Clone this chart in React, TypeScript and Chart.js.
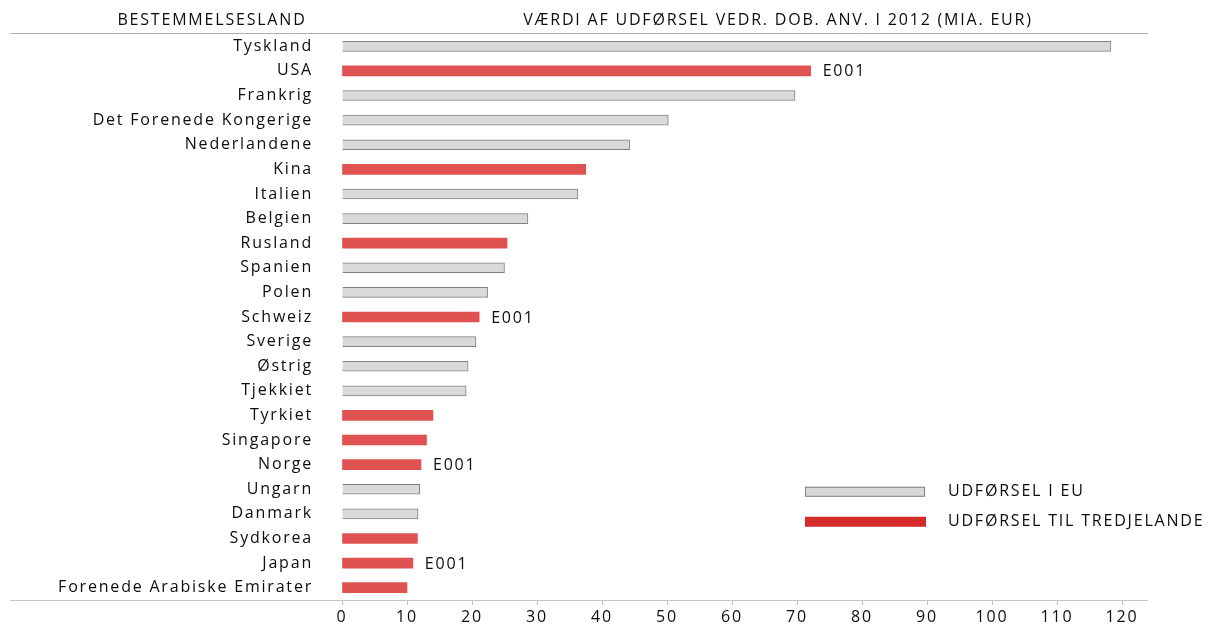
import React, { useEffect, useRef } from "react";
import { Chart, registerables } from "chart.js";

Chart.register(...registerables);

const categories = [
  "Tyskland", "USA", "Frankrig", "Det Forenede Kongerige", "Nederlandene", "Kina",
  "Italien", "Belgien", "Rusland", "Spanien", "Polen", "Schweiz", "Sverige", "Østrig",
  "Tjekkiet", "Tyrkiet", "Singapore", "Norge", "Ungarn", "Danmark", "Sydkorea", "Japan",
  "Forenede Arabiske Emirater",
];
const values = [
  118.3, 72.1, 69.7, 50.2, 44.3, 37.5, 36.3, 28.6, 25.4, 25.0, 22.4, 21.1, 20.6, 19.4,
  19.1, 14.0, 13.0, 12.15, 11.95, 11.7, 11.6, 10.9, 10.0,
];
// "eu" = udførsel i EU, "third" = udførsel til tredjelande
const groups = [
  "eu", "third", "eu", "eu", "eu", "third", "eu", "eu", "third", "eu", "eu", "third", "eu", "eu",
  "eu", "third", "third", "third", "eu", "eu", "third", "third", "third",
];
const notes = [
  "", "E001", "", "", "", "", "", "", "", "", "", "E001", "", "",
  "", "", "", "E001", "", "", "", "E001", "",
];
const xTicks = [0, 10, 20, 30, 40, 50, 60, 70, 80, 90, 100, 110, 120];
const legendLabels = ["UDFØRSEL I EU", "UDFØRSEL TIL TREDJELANDE"];
const headerLeft = "BESTEMMELSESLAND";
const headerRight = "VÆRDI AF UDFØRSEL VEDR. DOB. ANV. I 2012 (MIA. EUR)";

const FONT = "'Open Sans', sans-serif";
const FS = 16;
const LS = "1.8px";
const TXT = "#0d0d0d";

const euValues = values.map((v, i) => (groups[i] === "eu" ? v : null));
const thirdValues = values.map((v, i) => (groups[i] === "third" ? v : null));

const spacing = {
  id: "spacing",
  beforeLayout(chart: any) {
    chart.ctx.letterSpacing = LS;
  },
  beforeDraw(chart: any) {
    chart.ctx.letterSpacing = LS;
  },
};

const overlay = {
  id: "overlay",
  afterDraw(chart: any) {
    const ctx = chart.ctx;
    const area = chart.chartArea;
    ctx.save();
    ctx.letterSpacing = LS;
    // horizontal rules
    ctx.strokeStyle = "#b0b0b0";
    ctx.lineWidth = 1;
    ctx.beginPath();
    ctx.moveTo(10, area.top - 0.5);
    ctx.lineTo(area.right, area.top - 0.5);
    ctx.stroke();
    ctx.strokeStyle = "#c4c4c4";
    ctx.beginPath();
    ctx.moveTo(10, area.bottom + 0.5);
    ctx.lineTo(area.right, area.bottom + 0.5);
    ctx.stroke();

    // headers
    ctx.fillStyle = TXT;
    ctx.font = `${FS}px ${FONT}`;
    ctx.textBaseline = "middle";
    ctx.textAlign = "center";
    ctx.fillText(headerLeft, 212, 20);
    ctx.fillText(headerRight, 778, 20);

    // notes
    ctx.textAlign = "left";
    const metaThird = chart.getDatasetMeta(1);
    const metaEu = chart.getDatasetMeta(0);
    notes.forEach((n, i) => {
      if (!n) return;
      const meta = groups[i] === "third" ? metaThird : metaEu;
      const el = meta.data[i];
      if (!el) return;
      ctx.fillText(n, el.x + 12, el.y + 1);
    });

    // legend
    const lx = 805;
    const ly1 = chart.scales.y.getPixelForValue(18) + 2.5;
    const ly2 = ly1 + 30;
    ctx.fillStyle = "#d9d9d9";
    ctx.fillRect(lx, ly1 - 5, 120, 10);
    ctx.strokeStyle = "#808080";
    ctx.lineWidth = 1;
    ctx.strokeRect(lx + 0.5, ly1 - 4.5, 119, 9);
    ctx.fillStyle = "#d42a2a";
    ctx.fillRect(lx, ly2 - 5, 121, 10);
    ctx.fillStyle = TXT;
    ctx.fillText(legendLabels[0], 948, ly1);
    ctx.fillText(legendLabels[1], 948, ly2);
    ctx.restore();
  },
};

export default function App() {
  const ref = useRef<HTMLCanvasElement>(null);
  useEffect(() => {
    if (!ref.current) return;
    const chart = new Chart(ref.current, {
      type: "bar",
      data: {
        labels: categories,
        datasets: [
          {
            label: legendLabels[0],
            data: euValues,
            backgroundColor: "#d9d9d9",
            borderColor: "#808080",
            borderWidth: 1,
            barThickness: 10,
            grouped: false,
          } as any,
          {
            label: legendLabels[1],
            data: thirdValues,
            backgroundColor: "#e05252",
            borderWidth: 0,
            barThickness: 10,
            grouped: false,
          } as any,
        ],
      },
      options: {
        indexAxis: "y",
        animation: false,
        responsive: false,
        layout: { padding: { top: 34, right: 60, left: 0, bottom: 0 } },
        plugins: { legend: { display: false }, tooltip: { enabled: false } },
        scales: {
          x: {
            min: 0,
            max: 124,
            afterBuildTicks: (scale: any) => {
              scale.ticks = xTicks.map((v) => ({ value: v }));
            },
            afterFit: (scale: any) => {
              scale.height = 28;
              scale.paddingLeft = 0;
              scale.paddingRight = 0;
            },
            grid: {
              display: true,
              drawOnChartArea: false,
              drawTicks: true,
              tickLength: 5,
              color: "#bfbfbf",
            },
            border: { display: false },
            ticks: {
              font: { family: FONT, size: FS },
              color: TXT,
              padding: 3,
              maxRotation: 0,
            },
          },
          y: {
            afterFit: (scale: any) => {
              scale.width = 342;
              scale.paddingTop = 0;
              scale.paddingBottom = 0;
            },
            grid: { display: false, drawTicks: false },
            border: { display: false },
            ticks: {
              autoSkip: false,
              font: { family: FONT, size: FS },
              color: TXT,
              padding: 29,
            },
          },
        },
      },
      plugins: [spacing, overlay],
    });
    return () => chart.destroy();
  }, []);
  return (
    <div style={{ position: "absolute", left: 0, top: 0, width: 1208, height: 628, background: "#fff" }}>
      <canvas ref={ref} width={1208} height={628} />
    </div>
  );
}
